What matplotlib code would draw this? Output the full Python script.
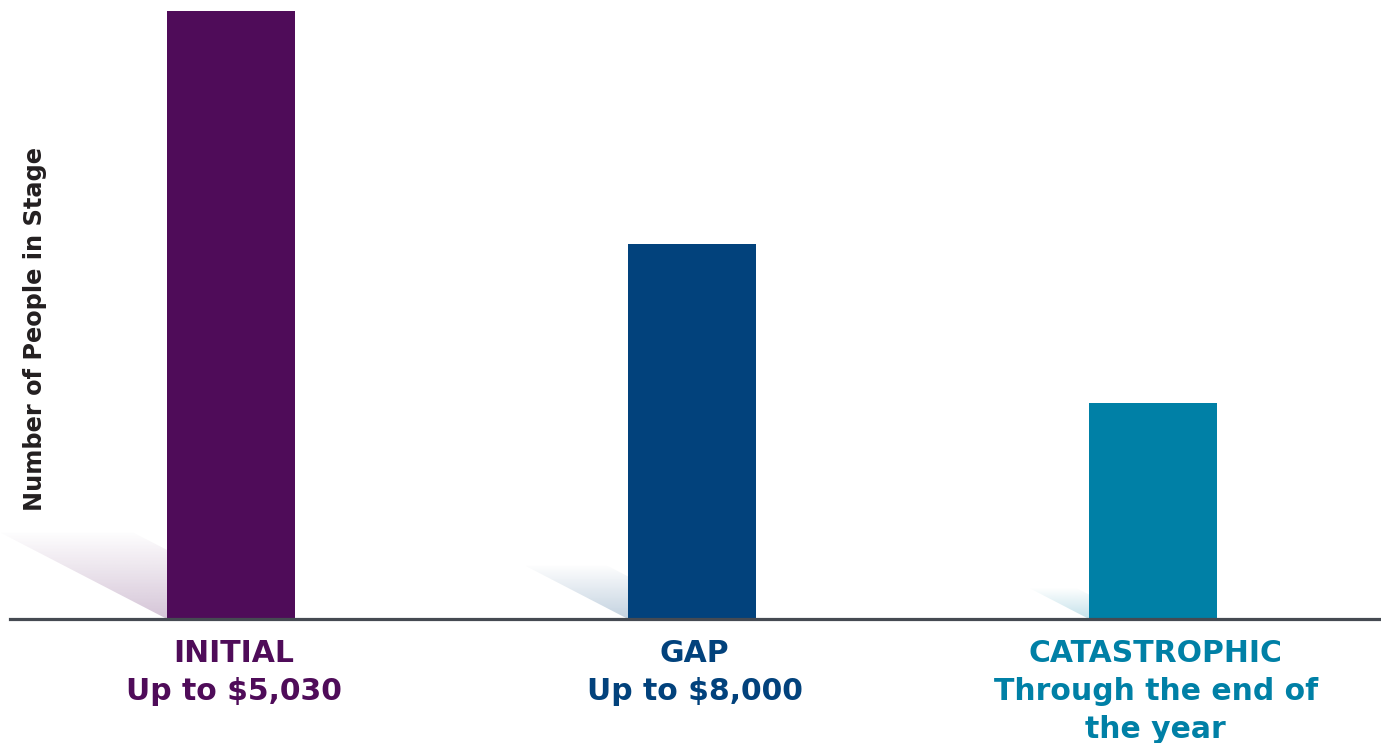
import numpy as np
import matplotlib
matplotlib.use("Agg")
import matplotlib.pyplot as plt
from matplotlib.patches import Polygon

# data (relative bar heights)
stages    = ["INITIAL", "GAP", "CATASTROPHIC"]
subtitles = ["Up to $5,030", "Up to $8,000", "Through the end of\nthe year"]
people    = [1.000, 0.617, 0.355]
colors    = ["#4f0c59", "#02427c", "#0080a6"]
ylabel    = "Number of People in Stage"

plt.rcParams["font.family"] = ["DejaVu Sans"]

W, H = 1381, 743
fig = plt.figure(figsize=(W/100, H/100), dpi=100)
base_px = 619
ax = fig.add_axes([0, 1 - base_px/H, 1, base_px/H])

px_x = 461.0       # px per x unit
px_y = 608.0       # px per y unit
xl = -231/px_x
xr = 2 + (W - 1153)/px_x
bw = 128/px_x

x = np.arange(len(stages))
ax.bar(x, people, width=bw, color=colors, zorder=3)

# soft shadows left of each bar
for xi, h, c in zip(x, people, colors):
    sh = 0.142*h
    sw = 1.93*sh*px_y/px_x
    x1 = xi - bw/2
    x0 = x1 - sw
    poly = Polygon([(x0, sh), (x1 - 0.2*sw, sh), (x1, 0.8*sh), (x1, 0)],
                   closed=True, transform=ax.transData, facecolor="none", edgecolor="none")
    ax.add_patch(poly)
    img = np.zeros((64, 1, 4))
    img[..., :3] = matplotlib.colors.to_rgb(c)
    img[:, 0, 3] = np.linspace(0.01, 0.24, 64)[::-1]
    im = ax.imshow(img, extent=[x0, x1, 0, sh], aspect="auto", origin="lower",
                   zorder=2, interpolation="bilinear")
    im.set_clip_path(poly)
ax.set_xlim(xl, xr)
ax.set_ylim(0, base_px/px_y)

for s in ["top", "right", "left"]:
    ax.spines[s].set_visible(False)
ax.spines["bottom"].set_color("#454a52")
ax.spines["bottom"].set_linewidth(2.3)
ax.spines["bottom"].set_bounds(xl + 10/px_x, xr)
ax.spines["bottom"].set_zorder(4)
ax.set_xticks([]); ax.set_yticks([])

# category labels under the baseline
for xi, t, sub, c in zip(x, stages, subtitles, colors):
    lines = [t] + sub.split("\n")
    for k, ln in enumerate(lines):
        ax.annotate(ln, xy=(xi, 0), xytext=(2, -(31 + 27.3*k)), textcoords="offset points",
                    ha="center", va="baseline", color=c, fontsize=21.5, fontweight="bold",
                    annotation_clip=False)

fig.text(35/W, 1 - 329/H, ylabel, rotation=90, ha="center", va="center",
         fontsize=17.3, fontweight="bold", color="#231f20")

fig.savefig("out.png", dpi=100)
